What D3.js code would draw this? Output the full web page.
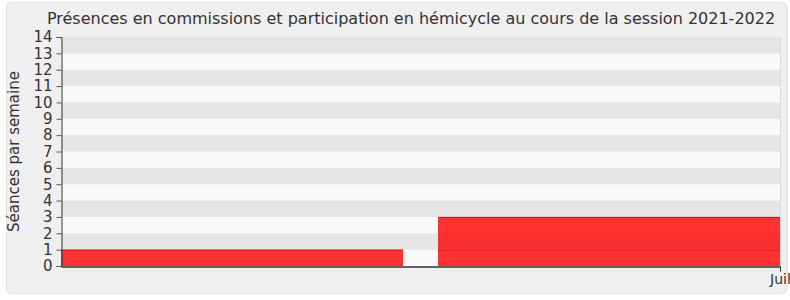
<!DOCTYPE html>
<html lang="fr">
<head>
<meta charset="UTF-8">
<title>Présences en commissions et participation en hémicycle</title>
<script src="https://cdnjs.cloudflare.com/ajax/libs/d3/7.8.5/d3.min.js"></script>
<style>
  body { margin: 0; background: #fff; font-family: "DejaVu Sans", Verdana, sans-serif; }
  svg text { fill: #333; }
</style>
</head>
<body>
<svg id="chart" width="790" height="300"></svg>
<script>
// Weeks (start dates) and values per week
const weeks = ["2022-06-17", "2022-06-24"];
const commissions = [1, 1];
const hemicycle = [0, 2];
const yTicks = d3.range(0, 15);
const xTicks = ["2022-07-01"];
const xTickLabels = ["Juil"];

const W = 790, H = 300;
const margin = { top: 37, right: 10, bottom: 34, left: 61 };
const parse = d3.timeParse("%Y-%m-%d");

const svg = d3.select("#chart");

// panel
svg.append("rect")
  .attr("x", 6.5).attr("y", 2.5).attr("width", 781).attr("height", 291)
  .attr("rx", 5).attr("fill", "#efefef").attr("stroke", "#e2e2e2");

const x = d3.scaleTime()
  .domain([parse(weeks[0]), d3.timeDay.offset(parse(weeks[weeks.length - 1]), 7)])
  .range([margin.left, W - margin.right]);
const y = d3.scaleLinear().domain([0, 14]).range([H - margin.bottom, margin.top]);

// background bands
svg.append("g").selectAll("rect")
  .data(d3.range(0, 14))
  .join("rect")
  .attr("x", margin.left)
  .attr("width", W - margin.right - margin.left)
  .attr("y", d => y(d + 1))
  .attr("height", d => y(d) - y(d + 1))
  .attr("fill", d => d % 2 ? "#e5e5e5" : "#f9f9f9");

svg.append("line")
  .attr("x1", W - margin.right + 0.5).attr("x2", W - margin.right + 0.5)
  .attr("y1", margin.top).attr("y2", H - margin.bottom)
  .attr("stroke", "#ddd");

// bars: gap between consecutive weeks
const gap = 17.5;
const data = weeks.map((w, i) => ({
  start: parse(w),
  end: d3.timeDay.offset(parse(w), 7),
  c: commissions[i],
  h: hemicycle[i],
  first: i === 0,
  last: i === weeks.length - 1
}));
const x0 = d => x(d.start) + (d.first ? 0 : gap);
const x1 = d => x(d.end) - (d.last ? 0 : gap);

const bars = svg.append("g").selectAll("g").data(data).join("g");
bars.filter(d => d.c > 0).append("rect")
  .attr("x", x0).attr("width", d => x1(d) - x0(d))
  .attr("y", d => y(d.c)).attr("height", d => y(0) - y(d.c))
  .attr("fill", "rgba(255,0,0,0.8)");
bars.filter(d => d.c > 0).append("line")
  .attr("x1", x0).attr("x2", x1)
  .attr("y1", d => y(d.c) + 0.5).attr("y2", d => y(d.c) + 0.5)
  .attr("stroke", "#d21a1a");
bars.filter(d => d.h > 0).append("rect")
  .attr("x", x0).attr("width", d => x1(d) - x0(d))
  .attr("y", d => y(d.c + d.h)).attr("height", d => y(d.c) - y(d.c + d.h))
  .attr("fill", "rgba(255,0,0,0.8)");
bars.filter(d => d.h > 0).append("line")
  .attr("x1", x0).attr("x2", x1)
  .attr("y1", d => y(d.c + d.h) + 0.5).attr("y2", d => y(d.c + d.h) + 0.5)
  .attr("stroke", "#ff0000");

// y axis
const yAxis = svg.append("g")
  .attr("transform", `translate(${margin.left + 0.5},0)`)
  .call(d3.axisLeft(y).tickValues(yTicks).tickFormat(d3.format("d")).tickSize(5).tickPadding(4));
yAxis.select(".domain").attr("stroke", "#333");
yAxis.selectAll(".tick line").attr("stroke", "#555");
yAxis.selectAll(".tick text")
  .attr("font-size", 15).attr("font-family", "DejaVu Sans, sans-serif").attr("fill", "#333");

// x axis
const xAxis = svg.append("g")
  .attr("transform", `translate(0,${H - margin.bottom + 0.5})`)
  .call(d3.axisBottom(x).tickValues(xTicks.map(parse))
    .tickFormat((d, i) => xTickLabels[i]).tickSize(5).tickPadding(3).tickSizeOuter(0));
xAxis.select(".domain").attr("stroke", "#333").attr("stroke-width", 1.5);
xAxis.selectAll(".tick line").attr("stroke", "#333");
xAxis.selectAll(".tick text")
  .attr("font-size", 14).attr("font-family", "DejaVu Sans, sans-serif").attr("fill", "#333");

// title
svg.append("text")
  .attr("x", 411).attr("y", 24)
  .attr("text-anchor", "middle")
  .attr("font-size", 16)
  .text("Présences en commissions et participation en hémicycle au cours de la session 2021-2022");

// y label
svg.append("text")
  .attr("transform", `translate(19,${(margin.top + H - margin.bottom) / 2}) rotate(-90)`)
  .attr("text-anchor", "middle")
  .attr("font-size", 15)
  .text("Séances par semaine");
</script>
</body>
</html>
